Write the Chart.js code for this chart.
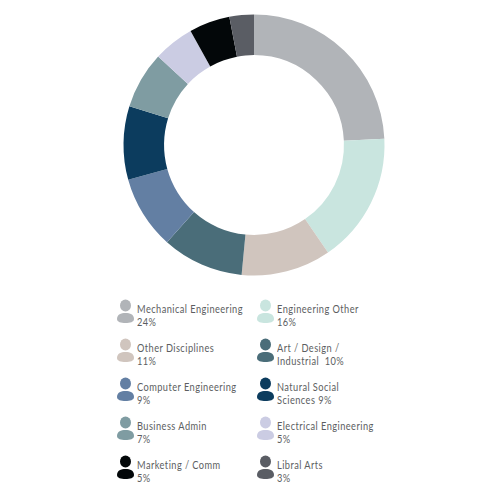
<!DOCTYPE html>
<html>
<head>
<meta charset="utf-8">
<script src="https://cdn.jsdelivr.net/npm/chart.js@4"></script>
<style>
html, body { margin: 0; padding: 0; background: #fff; }
body { position: relative; width: 500px; height: 500px; overflow: hidden; }
#dona { position: absolute; left: 122px; top: 13px; }
.item { position: absolute; width: 125px; font: 10.5px/13px Lato, sans-serif; letter-spacing: 0.5px; color: #5c5e61; }
.item span { display: inline-block; white-space: nowrap; transform: scaleX(0.88); transform-origin: left top; }
.item svg { position: absolute; left: -20px; top: -4px; }
</style>
</head>
<body>
<canvas id="dona" width="264" height="264"></canvas>
<div id="leyenda"></div>
<script>
// Datos de la grafica
const categorias = ["Mechanical Engineering", "Engineering Other", "Other Disciplines", "Art / Design / Industrial", "Computer Engineering", "Natural Social Sciences", "Business Admin", "Electrical Engineering", "Marketing / Comm", "Libral Arts"];
const valores = [24, 16, 11, 10, 9, 9, 7, 5, 5, 3];
const colores = ["#b1b4b8", "#c9e5df", "#d0c5be", "#4a6d79", "#637fa3", "#0c3c5e", "#7f9ca2", "#cbcce3", "#030709", "#5a5d64"];
// Texto de la leyenda, con sus saltos de linea
const etiquetas = ["Mechanical Engineering<br>24%", "Engineering Other<br>16%", "Other Disciplines<br>11%", "Art / Design /<br>Industrial&nbsp; 10%", "Computer Engineering<br>9%", "Natural Social<br>Sciences 9%", "Business Admin<br>7%", "Electrical Engineering<br>5%", "Marketing / Comm<br>5%", "Libral Arts<br>3%"];

// === CHART ===
const ctx = document.getElementById("dona").getContext("2d");

new Chart(ctx, {
    type: "doughnut",
    data: {
        labels: categorias,
        datasets: [{
            data: valores,
            backgroundColor: colores,
            borderWidth: 0
        }]
    },
    options: {
        responsive: false,
        animation: false,
        radius: 130.5,
        cutout: 91,
        plugins: { legend: { display: false }, tooltip: { enabled: false } }
    }
});

// === LEYENDA ===
const leyenda = document.getElementById("leyenda");

categorias.forEach((cat, i) => {
    const col = i % 2;
    const fila = Math.floor(i / 2);
    const item = document.createElement("div");
    item.className = "item";
    item.style.left = (137 + col * 140) + "px";
    item.style.top = (303 + fila * 39) + "px";
    item.innerHTML = `
        <svg width="20" height="26" viewBox="0 0 20 26">
            <ellipse cx="8.5" cy="6.5" rx="5.5" ry="6" fill="${colores[i]}"/>
            <path d="M0 20 C0 15.5 4 14 8.5 14 C13 14 17 15.5 17 20 C17 23 13 24 8.5 24 C4 24 0 23 0 20 Z" fill="${colores[i]}"/>
        </svg><span>${etiquetas[i]}</span>`;
    leyenda.appendChild(item);
});
</script>
</body>
</html>
